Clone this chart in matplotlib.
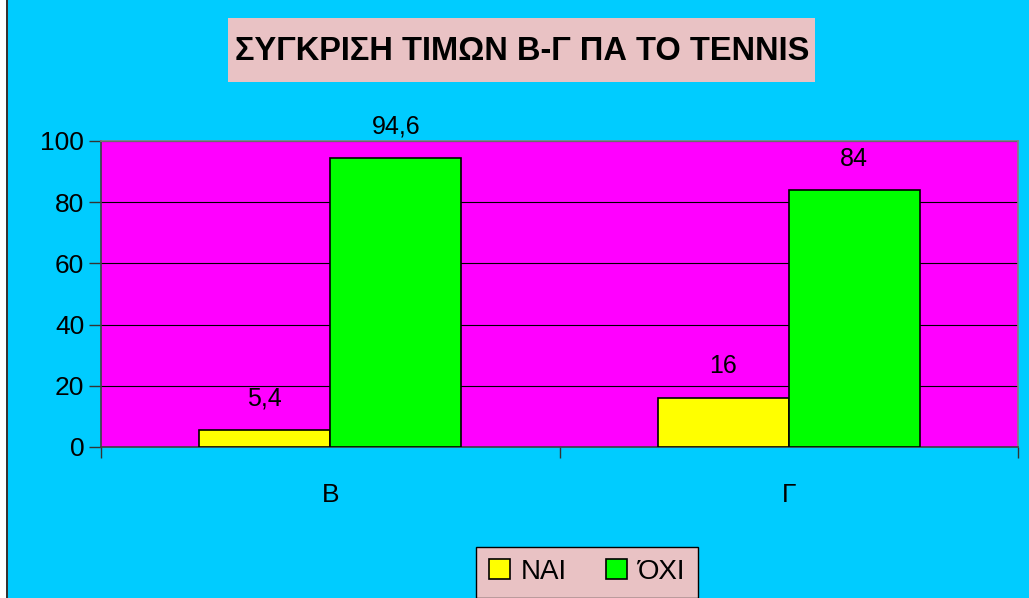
import matplotlib.pyplot as plt
from matplotlib.patches import Rectangle, Patch
import numpy as np

# ---- Data ----
categories = ["Β", "Γ"]
series_names = ["ΝΑΙ", "ΌΧΙ"]
nai_values = [5.4, 16]
oxi_values = [94.6, 84]
value_labels_nai = ["5,4", "16"]
value_labels_oxi = ["94,6", "84"]
yticks = [0, 20, 40, 60, 80, 100]

# ---- Style ----
BG = "#00CCFF"
PLOT_BG = "#FF00FF"
YELLOW = "#FFFF00"
GREEN = "#00FF00"
PINK = "#E9C2C4"
FONT = "Liberation Sans"

plt.rcParams["font.family"] = [FONT, "DejaVu Sans"]

W, H = 1029, 598
fig = plt.figure(figsize=(W / 100, H / 100), dpi=100, facecolor=BG)

# white strip + dark line on the left edge
fig.patches.append(Rectangle((0, 0), 6 / W, 1, transform=fig.transFigure,
                             facecolor="white", edgecolor="none", zorder=0))
fig.patches.append(Rectangle((6 / W, 0), 1.5 / W, 1, transform=fig.transFigure,
                             facecolor="#333333", edgecolor="none", zorder=0))

ax = fig.add_axes([101 / W, 1 - 447 / H, 917 / W, 306 / H])
ax.set_facecolor(PLOT_BG)

x = np.arange(len(categories))
bw = 0.286
ax.bar(x - bw / 2, nai_values, bw, color=YELLOW, edgecolor="black",
       linewidth=1.2, zorder=3, label=series_names[0])
ax.bar(x + bw / 2, oxi_values, bw, color=GREEN, edgecolor="black",
       linewidth=1.2, zorder=3, label=series_names[1])

for xi, v, t in zip(x - bw / 2, nai_values, value_labels_nai):
    ax.text(xi, v + 10.5, t, ha="center", va="center", fontsize=18)
for xi, v, t in zip(x + bw / 2, oxi_values, value_labels_oxi):
    ax.text(xi, v + 10, t, ha="center", va="center", fontsize=18,
            clip_on=False)

ax.set_xlim(-0.5, 1.5)
ax.set_ylim(0, 100)
ax.set_yticks(yticks)
ax.set_yticklabels([str(t) for t in yticks], fontsize=19)
ax.yaxis.grid(True, color="black", linewidth=0.8, zorder=1)
ax.set_axisbelow(True)

ax.set_xticks(x)
ax.set_xticklabels(categories, fontsize=19)
ax.tick_params(axis="x", length=0, pad=26)
ax.set_xticks([-0.5, 0.5, 1.5], minor=True)
ax.tick_params(axis="x", which="minor", length=8, width=1, color="#333333")
ax.tick_params(axis="y", length=9, width=1, color="#333333", pad=3)

for side in ["top", "right"]:
    ax.spines[side].set_color("#808080")
for side in ["left", "bottom"]:
    ax.spines[side].set_color("#404040")
for s in ax.spines.values():
    s.set_linewidth(1.2)

# ---- Title box ----
fig.patches.append(Rectangle((228 / W, 1 - 82 / H), 587 / W, 64 / H,
                             transform=fig.transFigure, facecolor=PINK,
                             edgecolor="none", zorder=1))
fig.text(522 / W, 1 - 51 / H, "ΣΥΓΚΡΙΣΗ ΤΙΜΩΝ Β-Γ ΠΑ ΤΟ TENNIS",
         ha="center", va="center", fontsize=23.5, fontweight="bold", zorder=2)

# ---- Legend ----
handles = [Patch(facecolor=YELLOW, edgecolor="black", linewidth=1.2),
           Patch(facecolor=GREEN, edgecolor="black", linewidth=1.2)]
leg = fig.legend(handles, series_names, loc="center",
                 bbox_to_anchor=(587 / W, 1 - 572 / H), ncol=2,
                 fontsize=20, frameon=True, fancybox=False,
                 facecolor=PINK, edgecolor="black", framealpha=1,
                 handlelength=0.75, handleheight=0.75, handletextpad=0.4,
                 columnspacing=1.4, borderpad=0.45)
leg.get_frame().set_linewidth(1.0)

fig.savefig("out.png", dpi=100, facecolor=BG)
